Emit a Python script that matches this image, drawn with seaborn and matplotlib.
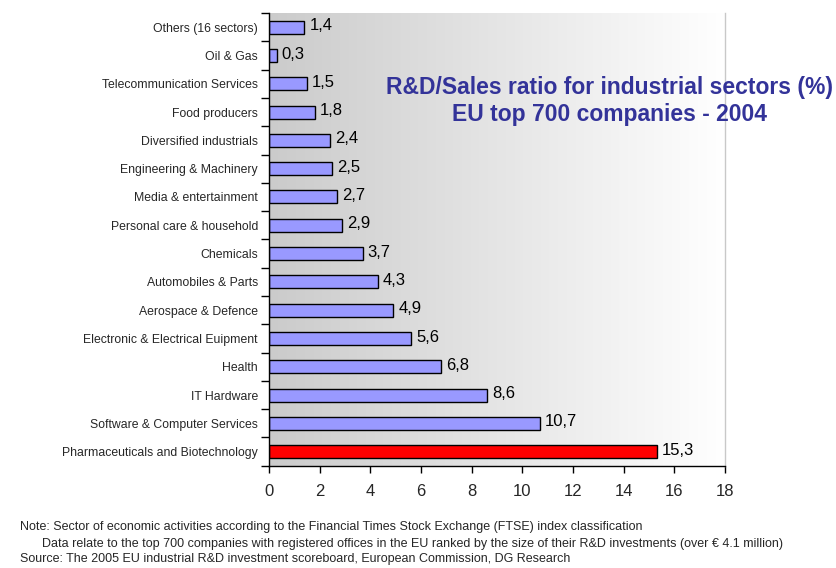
import numpy as np
import pandas as pd
import matplotlib
matplotlib.use('Agg')
import matplotlib.pyplot as plt
from matplotlib.colors import LinearSegmentedColormap
import seaborn as sns

# Datos (orden de arriba hacia abajo)
sectores = [
    "Others (16 sectors)", "Oil & Gas", "Telecommunication Services",
    "Food producers", "Diversified industrials", "Engineering & Machinery",
    "Media & entertainment", "Personal care & household", "Chemicals",
    "Automobiles & Parts", "Aerospace & Defence",
    "Electronic & Electrical Euipment", "Health", "IT Hardware",
    "Software & Computer Services", "Pharmaceuticals and Biotechnology",
]
ratios = [1.4, 0.3, 1.5, 1.8, 2.4, 2.5, 2.7, 2.9, 3.7, 4.3, 4.9, 5.6, 6.8, 8.6, 10.7, 15.3]
destacado = "Pharmaceuticals and Biotechnology"
x_ticks = [0, 2, 4, 6, 8, 10, 12, 14, 16, 18]

titulo = "R&D/Sales ratio for industrial sectors (%)\nEU top 700 companies - 2004"
notas = [
    "Note: Sector of economic activities according to the Financial Times Stock Exchange (FTSE) index classification",
    "Data relate to the top 700 companies with registered offices in the EU ranked by the size of their R&D investments (over \u20ac 4.1 million)",
    "Source: The 2005 EU industrial R&D investment scoreboard, European Commission, DG Research",
]

sns.set_theme(style="white")
fuente = ['Liberation Sans Narrow', 'Liberation Sans', 'DejaVu Sans']
plt.rcParams['font.family'] = fuente

df = pd.DataFrame({"sector": sectores, "ratio": ratios})
colores = {s: ('#ff0000' if s == destacado else '#9999ff') for s in sectores}

fig = plt.figure(figsize=(8.37, 5.68), dpi=100)
ax = fig.add_axes([0.3214, 0.180, 0.5448, 0.797])

# Fondo con degradado gris -> blanco
grad = np.linspace(0, 1, 256).reshape(1, -1)
cmap_fondo = LinearSegmentedColormap.from_list("fondo", ["#cbcbcb", "#e5e5e5", "#ffffff"])
ax.imshow(grad, cmap=cmap_fondo, aspect='auto', extent=(0, 18, len(sectores) - 0.5, -0.5), zorder=0)

sns.barplot(data=df, x="ratio", y="sector", hue="sector", palette=colores, legend=False,
            orient="h", width=0.46, saturation=1, edgecolor="black", linewidth=1.0, ax=ax, zorder=2)

for i, v in enumerate(ratios):
    ax.text(v + 0.2, i - 0.05, f"{v:.1f}".replace(".", ","), va='center', ha='left',
            fontsize=12, color='black', family=fuente, zorder=3)

ax.set_xlim(0, 18)
ax.set_ylim(len(sectores) - 0.5, -0.5)
ax.set_xticks(x_ticks)
ax.set_xticklabels([str(t) for t in x_ticks], fontsize=12)
ax.set_xlabel("")
ax.set_ylabel("")

# Etiquetas de categoria sin marca; marcas en los limites entre categorias
ax.set_yticks(range(len(sectores)))
ax.set_yticklabels(sectores, fontsize=8.8)
ax.tick_params(axis='y', length=0, pad=8)
ax.set_yticks(np.arange(-0.5, len(sectores), 1), minor=True)
ax.tick_params(axis='y', which='minor', length=6, width=1, color='black', direction='out', left=True)
ax.tick_params(axis='x', length=5, width=1, color='black', direction='out', bottom=True, pad=8)

for lado in ['left', 'bottom']:
    ax.spines[lado].set_color('black')
    ax.spines[lado].set_linewidth(1)
ax.spines['top'].set_visible(False)
ax.spines['right'].set_color('#c8c8c8')
ax.spines['right'].set_linewidth(1)

fig.text(0.728, 0.822, titulo, ha='center', va='center', fontsize=16.5, fontweight='bold',
         color='#333399', family=['Liberation Sans', 'DejaVu Sans'], linespacing=1.2)

fig.text(0.024, 0.072, notas[0], fontsize=9, va='center', ha='left')
fig.text(0.050, 0.043, notas[1], fontsize=9, va='center', ha='left')
fig.text(0.024, 0.015, notas[2], fontsize=9, va='center', ha='left')

fig.savefig("out.png", dpi=100)
plt.close(fig)
